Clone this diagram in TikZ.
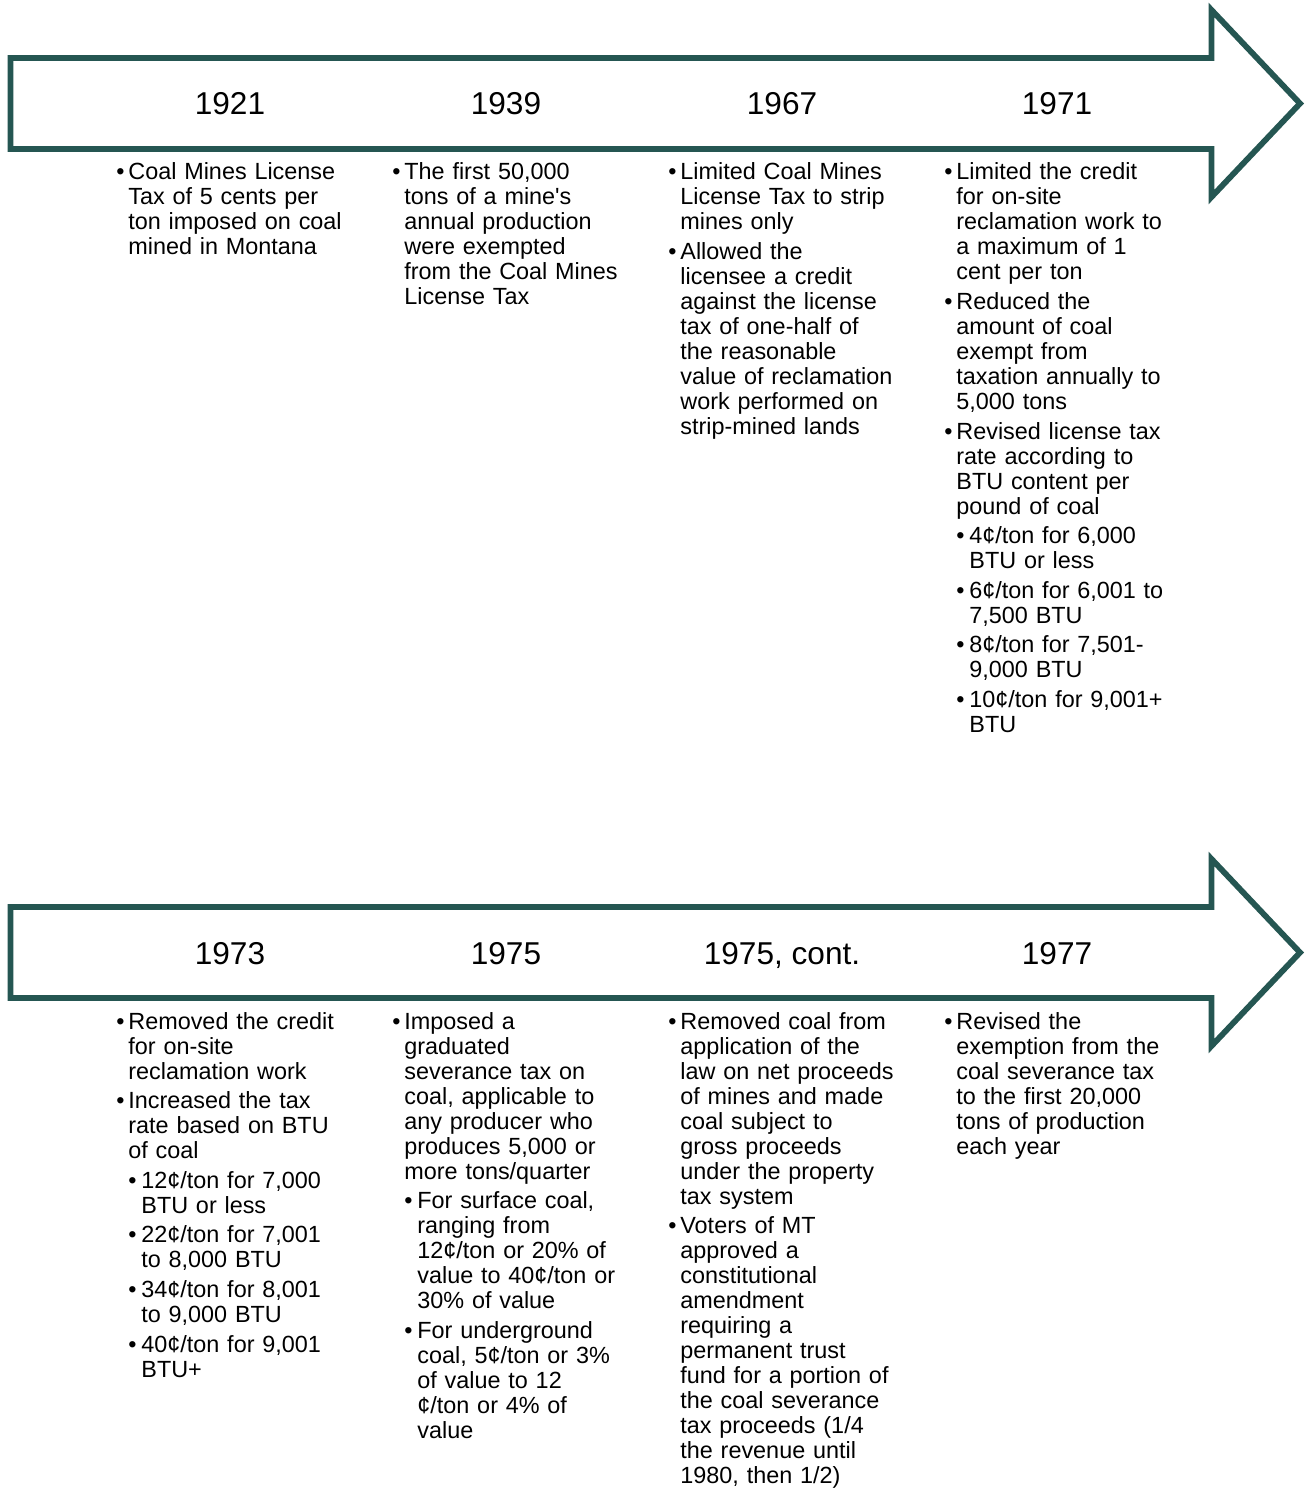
\documentclass[tikz,border=0pt]{standalone}
\usepackage{fontspec}
\setmainfont{Liberation Sans}
\usepackage{xcolor}
\definecolor{arrowteal}{RGB}{37,86,82}
% bullet points, first and second level
\newcommand{\itemA}[1]{\noindent\hangindent=5pt\hangafter=1\makebox[5pt][l]{\hspace*{-1pt}\textbullet}#1\par\vskip2.3pt}
\newcommand{\itemB}[1]{\noindent\hangindent=11.5pt\hangafter=1\hspace*{6pt}\makebox[5.5pt][l]{\hspace*{-1pt}\textbullet}#1\par\vskip2.3pt}

\begin{document}
\begin{tikzpicture}[x=0.5pt,y=-0.5pt]

\tikzset{timearrow/.style = {draw=arrowteal,line width=2.9pt,fill=white,line join=miter}}
\tikzset{year/.style = {anchor=base,inner sep=0pt,font=\fontsize{15.8}{18}\selectfont}}
\tikzset{events/.style = {anchor=base west,inner sep=0pt,text width=140pt,align=left,font=\fontsize{11.7}{12.5}\selectfont}}
\useasboundingbox (0,0) rectangle (1307,1491);

%arrows
\draw[timearrow] (10.5,58) -- (1211.5,58) -- (1211.5,10) -- (1300,103.5) -- (1211.5,197) -- (1211.5,149) -- (10.5,149) -- cycle;
\draw[timearrow] (10.5,907) -- (1211.5,907) -- (1211.5,859) -- (1300,952.5) -- (1211.5,1046) -- (1211.5,998) -- (10.5,998) -- cycle;

%years
\node[year] (y1921) at (230,115) {1921};
\node[year] (y1939) at (506,115) {1939};
\node[year] (y1967) at (782,115) {1967};
\node[year] (y1971) at (1057,115) {1971};
\node[year] (y1973) at (230,964) {1973};
\node[year] (y1975) at (506,964) {1975};
\node[year] (y1975c) at (782,964) {1975, cont.};
\node[year] (y1977) at (1057,964) {1977};

%events
\node[events] (e1921) at (118,180) {%
\itemA{Coal Mines License\newline Tax of 5 cents per\newline ton imposed on coal\newline mined in Montana}};
\node[events] (e1939) at (394,180) {%
\itemA{The first 50,000\newline tons of a mine\textquotesingle s\newline annual production\newline were exempted\newline from the Coal Mines\newline License Tax}};
\node[events] (e1967) at (670,180) {%
\itemA{Limited Coal Mines\newline License Tax to strip\newline mines only}
\itemA{Allowed the\newline licensee a credit\newline against the license\newline tax of one-half of\newline the reasonable\newline value of reclamation\newline work performed on\newline strip-mined lands}};
\node[events] (e1971) at (946,180) {%
\itemA{Limited the credit\newline for on-site\newline reclamation work to\newline a maximum of 1\newline cent per ton}
\itemA{Reduced the\newline amount of coal\newline exempt from\newline taxation annually to\newline 5,000 tons}
\itemA{Revised license tax\newline rate according to\newline BTU content per\newline pound of coal}
\itemB{4¢/ton for 6,000\newline BTU or less}
\itemB{6¢/ton for 6,001 to\newline 7,500 BTU}
\itemB{8¢/ton for 7,501-\newline 9,000 BTU}
\itemB{10¢/ton for 9,001+\newline BTU}};
\node[events] (e1973) at (118,1029) {%
\itemA{Removed the credit\newline for on-site\newline reclamation work}
\itemA{Increased the tax\newline rate based on BTU\newline of coal}
\itemB{12¢/ton for 7,000\newline BTU or less}
\itemB{22¢/ton for 7,001\newline to 8,000 BTU}
\itemB{34¢/ton for 8,001\newline to 9,000 BTU}
\itemB{40¢/ton for 9,001\newline BTU+}};
\node[events] (e1975) at (394,1029) {%
\itemA{Imposed a\newline graduated\newline severance tax on\newline coal, applicable to\newline any producer who\newline produces 5,000 or\newline more tons/quarter}
\itemB{For surface coal,\newline ranging from\newline 12¢/ton or 20\% of\newline value to 40¢/ton or\newline 30\% of value}
\itemB{For underground\newline coal, 5¢/ton or 3\%\newline of value to 12\newline ¢/ton or 4\% of\newline value}};
\node[events] (e1975c) at (670,1029) {%
\itemA{Removed coal from\newline application of the\newline law on net proceeds\newline of mines and made\newline coal subject to\newline gross proceeds\newline under the property\newline tax system}
\itemA{Voters of MT\newline approved a\newline constitutional\newline amendment\newline requiring a\newline permanent trust\newline fund for a portion of\newline the coal severance\newline tax proceeds (1/4\newline the revenue until\newline 1980, then 1/2)}};
\node[events] (e1977) at (946,1029) {%
\itemA{Revised the\newline exemption from the\newline coal severance tax\newline to the first 20,000\newline tons of production\newline each year}};
\end{tikzpicture}
\end{document}
